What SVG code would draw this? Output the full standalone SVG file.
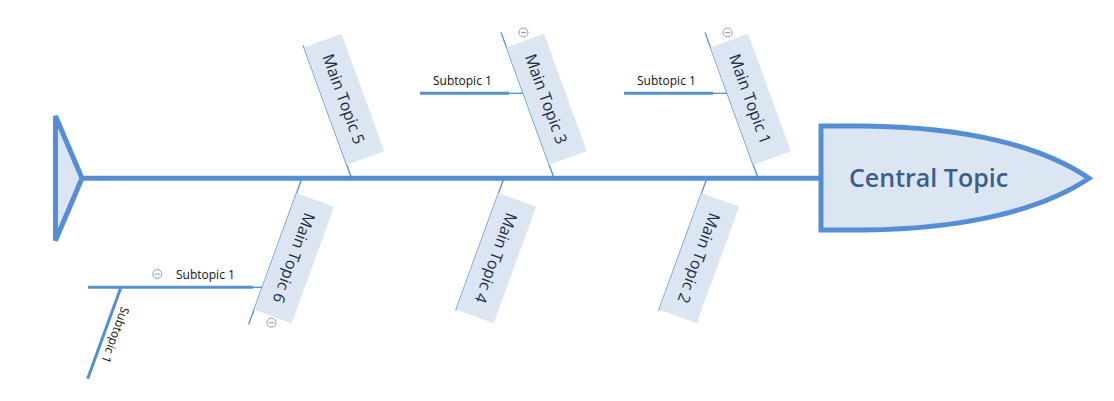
<svg xmlns="http://www.w3.org/2000/svg" width="1114" height="401" viewBox="0 0 1114 401">
<style>
.shape{fill:#dce6f2;stroke:#558ed5;stroke-width:5}
.spine{stroke:#558ed5;stroke-width:5;fill:none}
.bone{stroke:#558ed5;stroke-width:1.3;fill:none}
.under{stroke:#558ed5;stroke-width:3;fill:none}
.box{fill:#dce6f2}
.mt{font-family:"Open Sans","Liberation Sans",sans-serif;font-size:16px;fill:#1c2b4a;text-anchor:middle}
.st{font-family:"Open Sans","Liberation Sans",sans-serif;font-size:12px;fill:#111}
.ct{font-family:"Open Sans","Liberation Sans",sans-serif;font-size:25px;font-weight:600;fill:#3a5f8f}
.icon circle{fill:#fff;stroke:#7f9fd0;stroke-width:1}
.icon line{stroke:#7f9fd0;stroke-width:1}
</style>
<defs>
<g id="collapse" class="icon"><circle r="4.5"/><line x1="-2.5" y1="0" x2="2.5" y2="0"/></g>
</defs>
<rect width="1114" height="401" fill="#fff"/>

<g id="connectors">
<line class="spine" x1="84" y1="178.3" x2="821" y2="178.3"/>
<line class="bone" x1="-155" y1="0" x2="0" y2="0" transform="translate(758,178) rotate(70)"/>
<line class="bone" x1="-155" y1="0" x2="0" y2="0" transform="translate(554,178) rotate(70)"/>
<line class="bone" x1="-141" y1="0" x2="0" y2="0" transform="translate(351.5,178) rotate(70)"/>
<line class="bone" x1="0" y1="0" x2="156" y2="0" transform="translate(302,178) rotate(110)"/>
<line class="bone" x1="0" y1="0" x2="141" y2="0" transform="translate(504,178) rotate(110)"/>
<line class="bone" x1="0" y1="0" x2="141" y2="0" transform="translate(707,178) rotate(110)"/>
<line class="bone" x1="712" y1="93.3" x2="728" y2="93.3"/>
<line class="bone" x1="508" y1="93.3" x2="524" y2="93.3"/>
<line class="bone" x1="252" y1="287.3" x2="262.5" y2="287.3"/>
</g>

<g id="tail">
<polygon class="shape" points="55.5,116 82,178.3 55.5,240.5"/>
</g>

<g id="central-topic">
<path class="shape" d="M821,126 L865,126 C965,127 1042,146 1089,178.3 C1042,210 965,229 865,230 L821,230 Z"/>
<text class="ct" x="849" y="187">Central Topic</text>
</g>

<g id="main-topic-1">
<g transform="translate(758,178) rotate(70)">
<rect class="box" x="-139" y="-40" width="125" height="40"/>
<text class="mt" x="-77" y="-14">Main Topic 1</text>
</g>
<use href="#collapse" x="727.5" y="32.5"/>
</g>

<g id="main-topic-3">
<g transform="translate(554,178) rotate(70)">
<rect class="box" x="-139" y="-40" width="125" height="40"/>
<text class="mt" x="-77" y="-14">Main Topic 3</text>
</g>
<use href="#collapse" x="523.5" y="32.5"/>
</g>

<g id="main-topic-5">
<g transform="translate(351.5,178) rotate(70)">
<rect class="box" x="-139" y="-40" width="125" height="40"/>
<text class="mt" x="-77" y="-14">Main Topic 5</text>
</g>
</g>

<g id="main-topic-6">
<g transform="translate(302,178) rotate(110)">
<rect class="box" x="16" y="-40" width="124" height="40"/>
<text class="mt" x="78" y="-14">Main Topic 6</text>
</g>
<use href="#collapse" x="271.5" y="322.7"/>
</g>

<g id="main-topic-4">
<g transform="translate(504,178) rotate(110)">
<rect class="box" x="16" y="-40" width="124" height="40"/>
<text class="mt" x="78" y="-14">Main Topic 4</text>
</g>
</g>

<g id="main-topic-2">
<g transform="translate(707,178) rotate(110)">
<rect class="box" x="16" y="-40" width="124" height="40"/>
<text class="mt" x="78" y="-14">Main Topic 2</text>
</g>
</g>

<g id="subtopic-1-of-1">
<line class="under" x1="624" y1="93.3" x2="713" y2="93.3"/>
<text class="st" x="637" y="85">Subtopic 1</text>
</g>

<g id="subtopic-1-of-3">
<line class="under" x1="420" y1="93.3" x2="509" y2="93.3"/>
<text class="st" x="433" y="85">Subtopic 1</text>
</g>

<g id="subtopic-1-of-6">
<line class="under" x1="88" y1="287.3" x2="253" y2="287.3"/>
<text class="st" x="176" y="279">Subtopic 1</text>
<use href="#collapse" x="157.3" y="274"/>
</g>

<g id="subtopic-1-of-subtopic">
<g transform="translate(120.5,288.5) rotate(110)">
<line class="under" x1="0" y1="0" x2="96" y2="0"/>
<text class="st" x="16" y="-7">Subtopic 1</text>
</g>
</g>
</svg>
